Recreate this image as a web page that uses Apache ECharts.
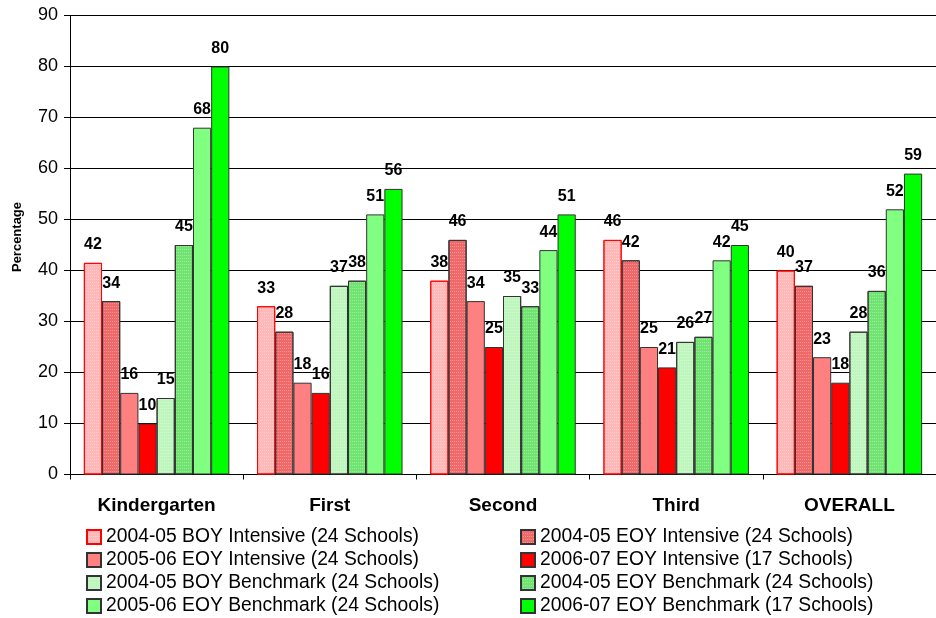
<!DOCTYPE html>
<html>
<head>
<meta charset="utf-8">
<script src="https://cdn.jsdelivr.net/npm/echarts@6/dist/echarts.min.js"></script>
<style>
html,body{margin:0;padding:0;background:#fff;}
#main{width:936px;height:618px;}
</style>
</head>
<body>
<div id="main"></div>
<script>
const categories = ['Kindergarten', 'First', 'Second', 'Third', 'OVERALL'];
const seriesNames = [
  '2004-05 BOY Intensive (24 Schools)',
  '2004-05 EOY Intensive (24 Schools)',
  '2005-06 EOY Intensive (24 Schools)',
  '2006-07 EOY Intensive (17 Schools)',
  '2004-05 BOY Benchmark (24 Schools)',
  '2004-05 EOY Benchmark (24 Schools)',
  '2005-06 EOY Benchmark (24 Schools)',
  '2006-07 EOY Benchmark (17 Schools)'
];
const boyIntensive0405 = [41.5, 33, 38, 46, 40];
const eoyIntensive0405 = [34, 28, 46, 42, 37];
const eoyIntensive0506 = [16, 18, 34, 25, 23];
const eoyIntensive0607 = [10, 16, 25, 21, 18];
const boyBenchmark0405 = [15, 37, 35, 26, 28];
const eoyBenchmark0405 = [45, 38, 33, 27, 36];
const eoyBenchmark0506 = [68, 51, 44, 42, 52];
const eoyBenchmark0607 = [80, 56, 51, 45, 59];
const yTicks = [0, 10, 20, 30, 40, 50, 60, 70, 80, 90];
const yAxisTitle = 'Percentage';

const values = [boyIntensive0405, eoyIntensive0405, eoyIntensive0506, eoyIntensive0607,
                boyBenchmark0405, eoyBenchmark0405, eoyBenchmark0506, eoyBenchmark0607];
const fills = ['#FFB8B8', '#F06868', '#FF8080', '#FF0000', '#BEF6BE', '#70E470', '#80FF80', '#00FF00'];
const borders = ['#FF0000', '#333333', '#333333', '#333333', '#333333', '#333333', '#333333', '#333333'];
const hatch = [true, true, false, false, true, true, false, false];

const FONT = "'Liberation Sans', Arial, sans-serif";

const series = values.map((v, i) => ({
  name: seriesNames[i],
  type: 'bar',
  data: v,
  barGap: '0%',
  barCategoryGap: '16%',
  itemStyle: Object.assign(
    { color: fills[i], borderColor: borders[i], borderWidth: 1 },
    hatch[i] ? { decal: { symbol: 'rect', symbolSize: 1, dashArrayX: [1, 1], dashArrayY: [1, 2], rotation: 0, color: 'rgba(255,255,255,0.3)' } } : {}
  ),
  label: {
    show: true, position: 'top', distance: 10,
    formatter: p => Math.round(p.value),
    fontFamily: FONT, fontWeight: 'bold', fontSize: 16, color: '#000'
  }
}));

const legendCommon = {
  orient: 'vertical', top: 527.5, padding: 0,
  itemWidth: 14, itemHeight: 14, itemGap: 4,
  textStyle: { fontFamily: FONT, fontSize: 19.3, lineHeight: 19, color: '#000' },
  icon: 'rect'
};

const chart = echarts.init(document.getElementById('main'), null, { renderer: 'canvas' });
chart.setOption({
  animation: false,
  backgroundColor: '#fff',
  grid: { left: 70, top: 15.5, width: 872.5, height: 459, containLabel: false },
  xAxis: {
    type: 'category', data: categories,
    axisLine: { lineStyle: { color: '#000', width: 1 } },
    axisTick: { show: true, length: 5, lineStyle: { color: '#000' } },
    axisLabel: { fontFamily: FONT, fontWeight: 'bold', fontSize: 19, color: '#000', margin: 22 }
  },
  yAxis: {
    type: 'value', min: yTicks[0], max: yTicks[yTicks.length - 1], interval: 10,
    axisLine: { show: true, lineStyle: { color: '#000', width: 1 } },
    axisTick: { show: true, length: 6, lineStyle: { color: '#000' } },
    axisLabel: { fontFamily: FONT, fontSize: 18, color: '#000', margin: 12 },
    splitLine: { show: true, lineStyle: { color: '#000', width: 1 } }
  },
  graphic: [{
    type: 'text', x: 17, y: 237, rotation: Math.PI / 2,
    style: {
      text: yAxisTitle, fontFamily: FONT, fontWeight: 'bold', fontSize: 13, fill: '#000',
      align: 'center', verticalAlign: 'middle'
    }
  }],
  legend: [
    Object.assign({}, legendCommon, { left: 86, data: [seriesNames[0], seriesNames[2], seriesNames[4], seriesNames[6]] }),
    Object.assign({}, legendCommon, { left: 520, data: [seriesNames[1], seriesNames[3], seriesNames[5], seriesNames[7]] })
  ],
  series: series
});
</script>
</body>
</html>
